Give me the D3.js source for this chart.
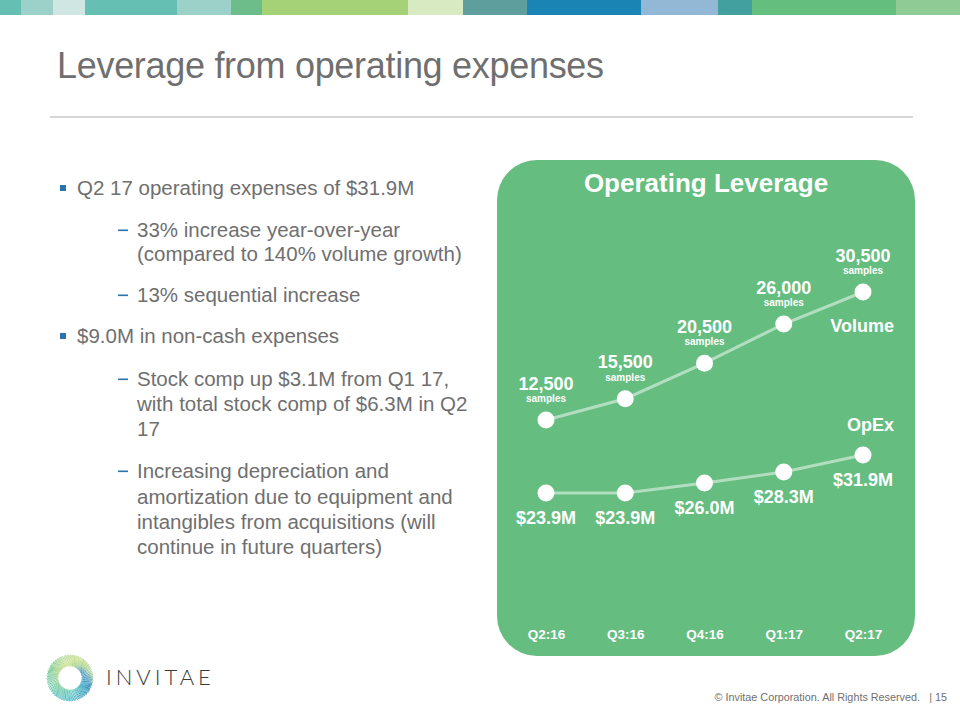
<!DOCTYPE html>
<html>
<head>
<meta charset="utf-8">
<script src="https://cdn.jsdelivr.net/npm/d3@7"></script>
<style>
  html, body { margin: 0; padding: 0; background: #ffffff; }
  svg { display: block; }
</style>
</head>
<body>
<svg id="slide" width="960" height="720"></svg>
<script>
// ---------------- data ----------------
const quarters = ["Q2:16", "Q3:16", "Q4:16", "Q1:17", "Q2:17"];
const volume = [12500, 15500, 20500, 26000, 30500];
const volumeLabels = ["12,500", "15,500", "20,500", "26,000", "30,500"];
const opex = [23.9, 23.9, 26.0, 28.3, 31.9];
const opexLabels = ["$23.9M", "$23.9M", "$26.0M", "$28.3M", "$31.9M"];

const titleText = "Leverage from operating expenses";
const chartTitle = "Operating Leverage";
const bullets = [
  { level: 0, lines: ["Q2 17 operating expenses of $31.9M"] },
  { level: 1, lines: ["33% increase year-over-year", "(compared to 140% volume growth)"] },
  { level: 1, lines: ["13% sequential increase"] },
  { level: 0, lines: ["$9.0M in non-cash expenses"] },
  { level: 1, lines: ["Stock comp up $3.1M from Q1 17,", "with total stock comp of $6.3M in Q2", "17"] },
  { level: 1, lines: ["Increasing depreciation and", "amortization due to equipment and", "intangibles from acquisitions (will", "continue in future quarters)"] }
];
const bandColors = ["#66bfb3","#9bd1c8","#cfe6e3","#66bfb3","#9bd1c8","#6cbd8a","#a6d277","#d8eac2","#5e9e9c","#1a85b4","#93b8d6","#42a09e","#64bf7f","#8fcc95"];
const bandEdges = [0,21,53,85,177,231,262,408,463,527,641,718,752,896,960];

// ---------------- drawing ----------------
const svg = d3.select("#slide");
const FONT = "'Liberation Sans', Arial, Helvetica, sans-serif";
const GRAY = "#6f6f6f";

// top colour band
svg.append("g").selectAll("rect").data(bandColors).join("rect")
  .attr("x", (d, i) => bandEdges[i])
  .attr("y", 0)
  .attr("width", (d, i) => bandEdges[i + 1] - bandEdges[i])
  .attr("height", 15)
  .attr("fill", d => d);

// slide title
svg.append("text").attr("x", 57).attr("y", 78)
  .attr("font-family", FONT).attr("font-size", 36).attr("letter-spacing", -0.3)
  .attr("fill", GRAY).text(titleText);

svg.append("line").attr("x1", 50).attr("x2", 913).attr("y1", 117).attr("y2", 117)
  .attr("stroke", "#d6d6d6").attr("stroke-width", 2);

// bullet text
const bodyG = svg.append("g").attr("font-family", FONT).attr("font-size", 20.5).attr("fill", GRAY);
const baselines = [[195], [237, 261], [302], [343], [386, 411, 436], [478, 504, 529, 554]];
bullets.forEach((b, bi) => {
  const x = b.level === 0 ? 77 : 137;
  if (b.level === 0) {
    bodyG.append("rect").attr("x", 60).attr("y", baselines[bi][0] - 10).attr("width", 6).attr("height", 6).attr("fill", "#2a74ad");
  } else {
    bodyG.append("rect").attr("x", 118).attr("y", baselines[bi][0] - 7.5).attr("width", 10).attr("height", 1.6).attr("fill", "#2a74ad");
  }
  b.lines.forEach((ln, li) => {
    bodyG.append("text").attr("x", x).attr("y", baselines[bi][li]).text(ln);
  });
});

// chart panel
svg.append("rect").attr("x", 497).attr("y", 160).attr("width", 418).attr("height", 496)
  .attr("rx", 40).attr("ry", 40).attr("fill", "#65bd80");

svg.append("text").attr("x", 706).attr("y", 192).attr("text-anchor", "middle")
  .attr("font-family", FONT).attr("font-weight", "bold").attr("font-size", 26)
  .attr("fill", "#ffffff").text(chartTitle);

const x = d3.scalePoint().domain(quarters).range([546, 863]);
const yVol = d3.scaleLinear().domain([0, 35000]).range([509, 260]);
const yOpex = d3.scaleLinear().domain([0, 40]).range([606.5, 416.5]);

// x axis
const xAxis = svg.append("g").attr("transform", "translate(0,625)")
  .call(d3.axisBottom(x).tickSize(0).tickPadding(4));
xAxis.select(".domain").remove();
xAxis.selectAll("text").attr("font-family", FONT).attr("font-weight", "bold")
  .attr("font-size", 13.5).attr("fill", "#ffffff");

const lineColor = "rgba(255,255,255,0.5)";
function drawSeries(vals, yScale) {
  const pts = quarters.map((q, i) => [x(q), yScale(vals[i])]);
  svg.append("path").datum(pts).attr("d", d3.line())
    .attr("fill", "none").attr("stroke", lineColor).attr("stroke-width", 3);
  svg.append("g").selectAll("circle").data(pts).join("circle")
    .attr("cx", d => d[0]).attr("cy", d => d[1]).attr("r", 8.5).attr("fill", "#ffffff");
  return pts;
}
const volPts = drawSeries(volume, yVol);
const opPts = drawSeries(opex, yOpex);

const labG = svg.append("g").attr("font-family", FONT).attr("font-weight", "bold")
  .attr("fill", "#ffffff").attr("text-anchor", "middle");
volPts.forEach((p, i) => {
  labG.append("text").attr("x", p[0]).attr("y", p[1] - 30.5).attr("font-size", 18).text(volumeLabels[i]);
  labG.append("text").attr("x", p[0]).attr("y", p[1] - 18).attr("font-size", 10).text("samples");
});
opPts.forEach((p, i) => {
  labG.append("text").attr("x", p[0]).attr("y", p[1] + 31).attr("font-size", 18).text(opexLabels[i]);
});
const lastV = volPts[volPts.length - 1], lastO = opPts[opPts.length - 1];
labG.append("text").attr("x", lastV[0] + 31).attr("y", lastV[1] + 40).attr("text-anchor", "end")
  .attr("font-size", 18).text("Volume");
labG.append("text").attr("x", lastO[0] + 31).attr("y", lastO[1] - 24).attr("text-anchor", "end")
  .attr("font-size", 18).text("OpEx");

// footer
const footG = svg.append("g").attr("font-family", FONT).attr("font-size", 10.8).attr("fill", "#707070");
footG.append("text").attr("x", 920).attr("y", 701).attr("text-anchor", "end")
  .text("\u00A9 Invitae Corporation. All Rights Reserved.");
footG.append("text").attr("x", 947).attr("y", 701).attr("text-anchor", "end").text("| 15");

// logo swirl
const logo = svg.append("g").attr("transform", "translate(70,678)");
const swirlColor = d3.scaleLinear()
  .domain([0, 45, 90, 135, 180, 225, 270, 315, 360])
  .range(["#c8df8c", "#a9d48c", "#3f92c0", "#3aa8c2", "#58c3c2", "#6fcab0", "#82cd98", "#aad690", "#c8df8c"])
  .interpolate(d3.interpolateRgb);
const nStrokes = 54;
d3.range(nStrokes).forEach(i => {
  const a0 = i * 360 / nStrokes;
  const pts = d3.range(0, 1.0001, 0.1).map(t => {
    const r = 12 + t * 11;
    const a = (a0 + t * 62) * Math.PI / 180;
    return [r * Math.sin(a), -r * Math.cos(a)];
  });
  logo.append("path").attr("d", d3.line().curve(d3.curveBasis)(pts))
    .attr("fill", "none").attr("stroke", swirlColor((a0 + 30) % 360))
    .attr("stroke-width", 1).attr("stroke-linecap", "round");
});
svg.append("text").attr("x", 106).attr("y", 685)
  .attr("font-family", "Lato, 'Open Sans', sans-serif").attr("font-weight", 300)
  .attr("font-size", 22).attr("letter-spacing", 4).attr("fill", "#3a3a3a").text("INVITAE");
</script>
</body>
</html>
